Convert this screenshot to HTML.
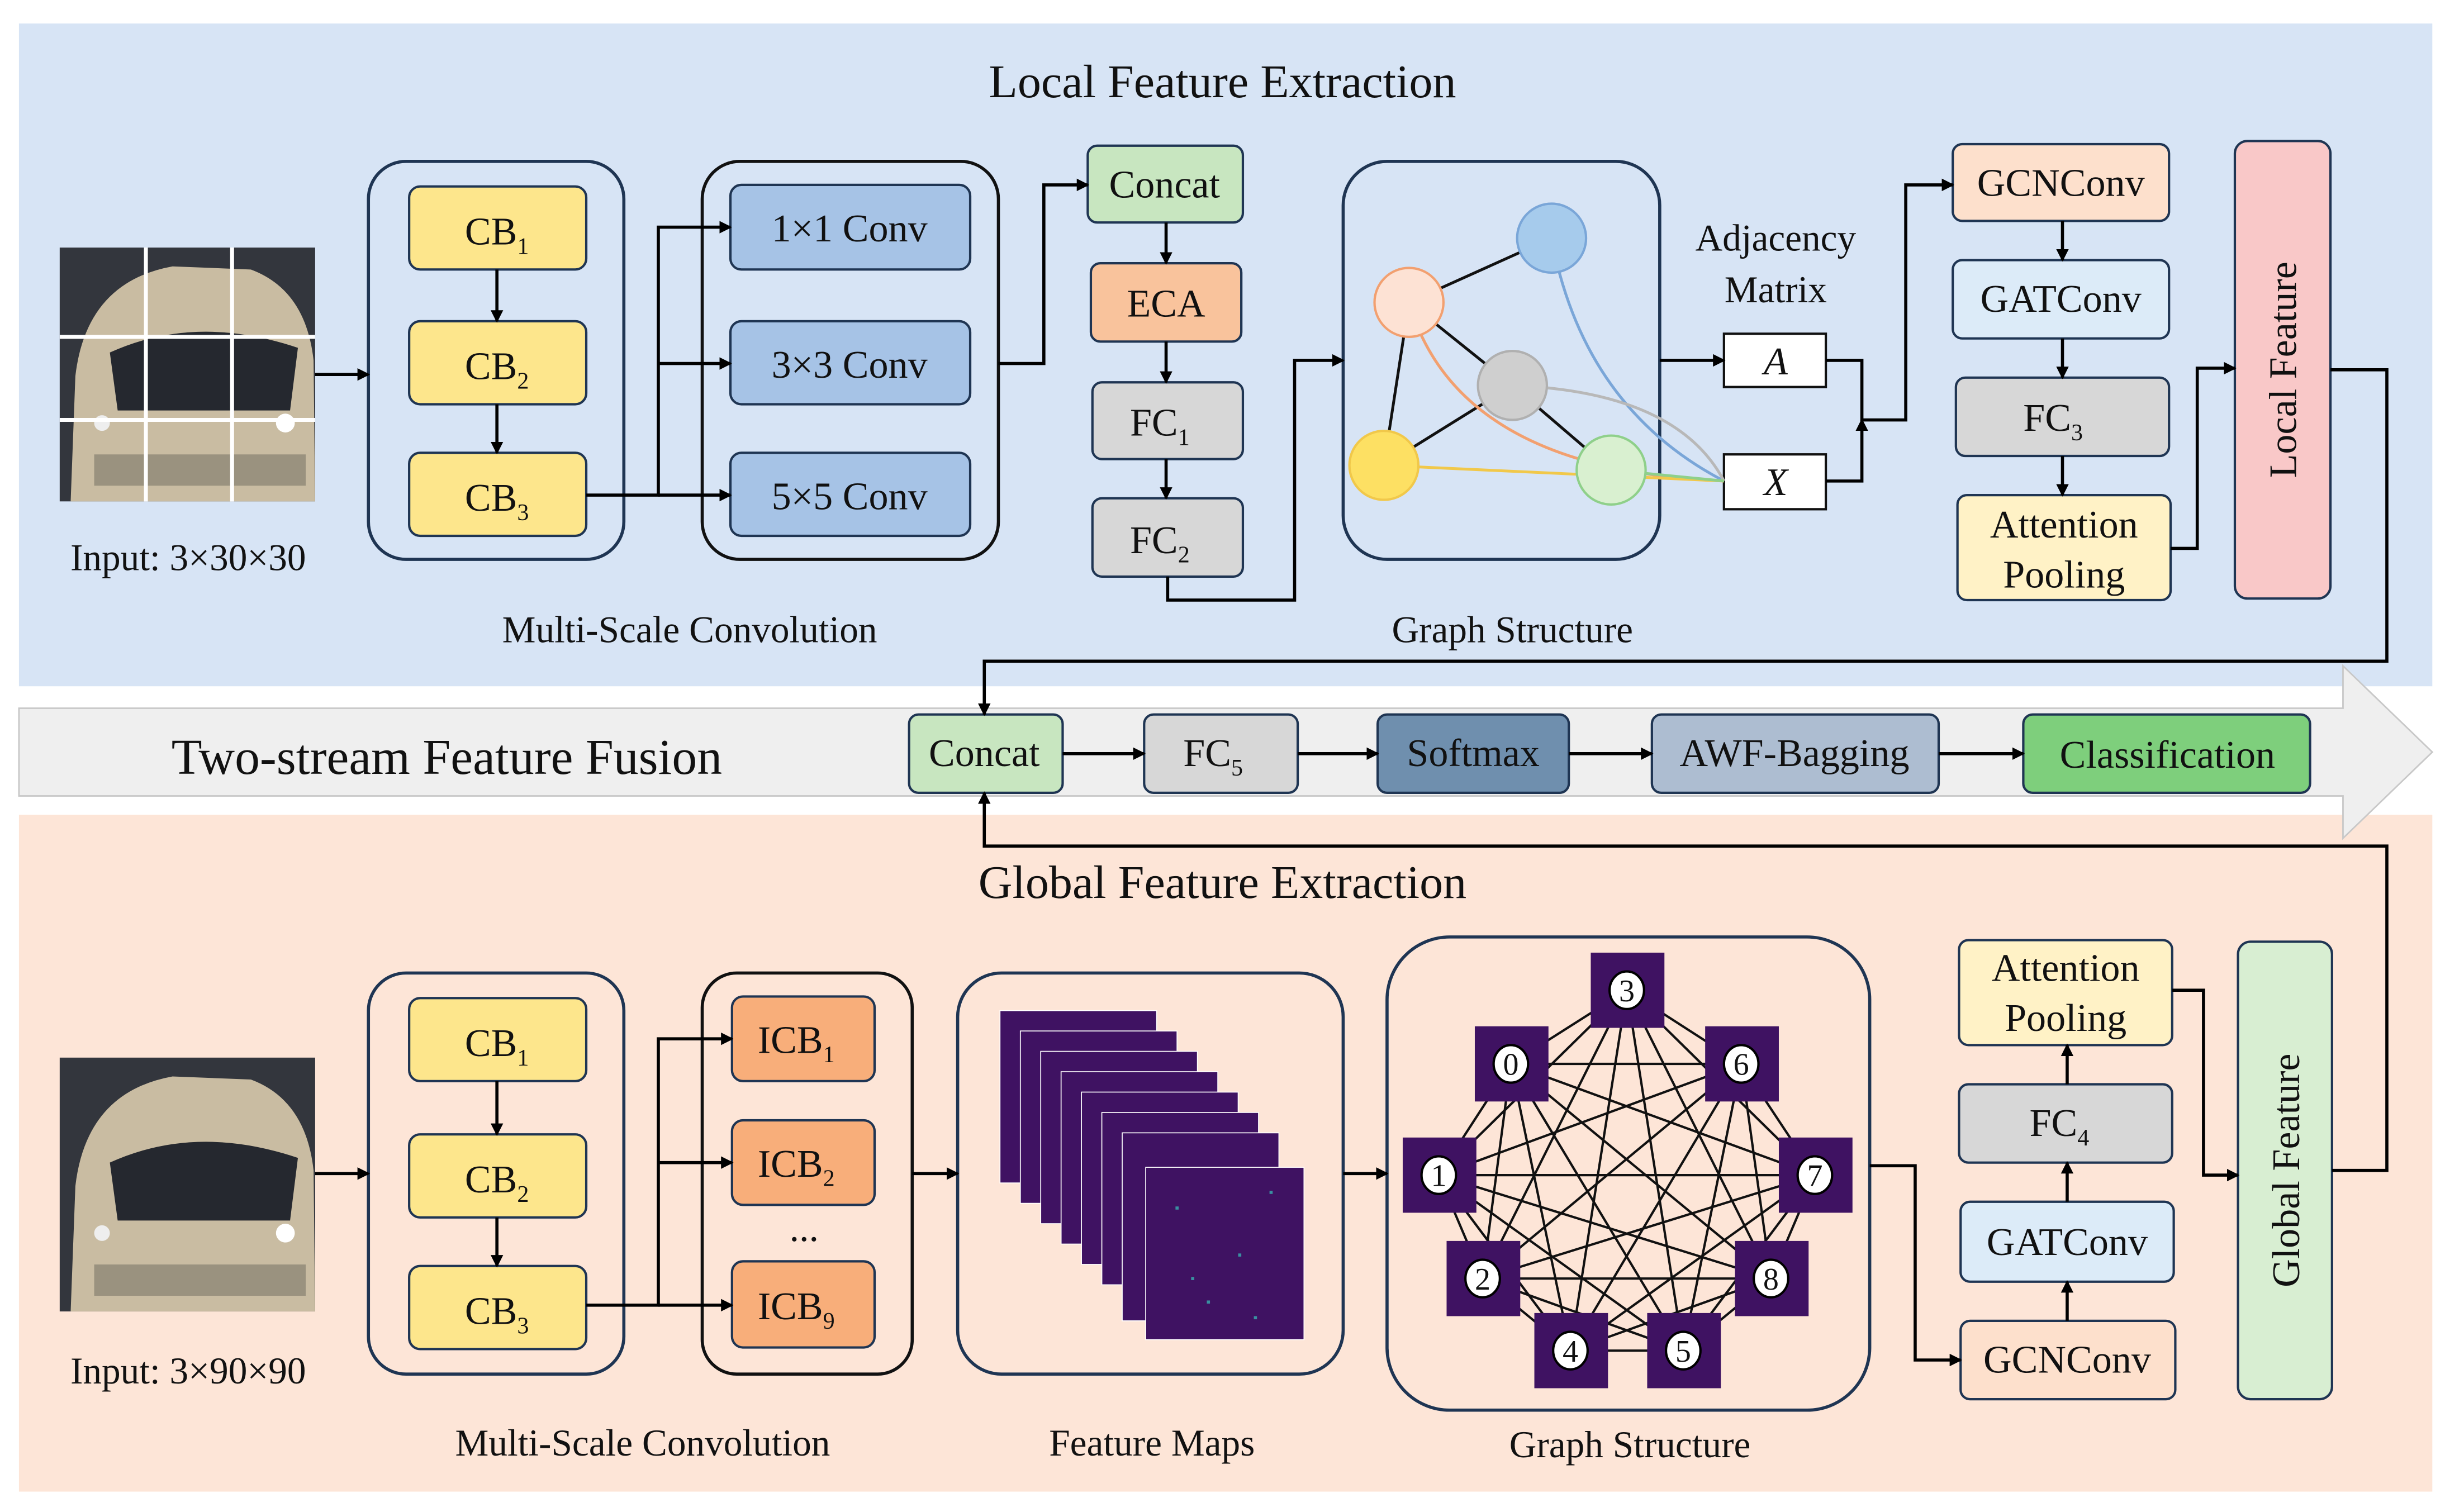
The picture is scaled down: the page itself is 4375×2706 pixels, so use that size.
<!DOCTYPE html>
<html><head><meta charset="utf-8">
<style>
html,body{margin:0;padding:0;background:#fff;}
svg{display:block;}
text{font-family:"Liberation Serif",serif;fill:#111;}
</style></head>
<body>
<svg width="4375" height="2706" viewBox="0 0 1560 965" xmlns="http://www.w3.org/2000/svg">
<defs>
<marker id="ar" markerWidth="8" markerHeight="8" refX="7" refY="4" orient="auto" markerUnits="userSpaceOnUse">
<path d="M0,0 L8,4 L0,8 z" fill="#000"/></marker>
</defs>
<rect width="1560" height="965" fill="#fff"/>
<rect x="12" y="15" width="1540" height="423" fill="#d7e4f5"/>
<rect x="12" y="520" width="1540" height="432" fill="#fde5d7"/>
<path d="M12,452 L1495,452 L1495,425 L1552,480 L1495,535 L1495,508 L12,508 Z" fill="#efefef" stroke="#c8c8c8" stroke-width="1"/>

<g font-size="30" text-anchor="middle">
<text x="780" y="62">Local Feature Extraction</text>
<text x="780" y="573">Global Feature Extraction</text>
<text x="285" y="494" font-size="32">Two-stream Feature Fusion</text>
</g>

<!-- cars -->
<g id="car1">
<rect x="38" y="158" width="163" height="162" fill="#33363d"/>
<path d="M45,320 L48,240 Q55,180 110,170 L160,172 Q195,185 200,230 L201,320 Z" fill="#c9bca2"/>
<path d="M70,225 Q125,200 190,222 L185,262 L75,262 Z" fill="#25282f"/>
<path d="M60,290 H195 V310 H60 Z" fill="#9a927f"/>
<circle cx="182" cy="270" r="6" fill="#fff"/>
<circle cx="65" cy="270" r="5" fill="#eee"/>
</g>
<path d="M38,215 H201 M38,268 H201 M93,158 V320 M148,158 V320" stroke="#fff" stroke-width="2.5"/>
<g transform="translate(0,517)">
<rect x="38" y="158" width="163" height="162" fill="#33363d"/>
<path d="M45,320 L48,240 Q55,180 110,170 L160,172 Q195,185 200,230 L201,320 Z" fill="#c9bca2"/>
<path d="M70,225 Q125,200 190,222 L185,262 L75,262 Z" fill="#25282f"/>
<path d="M60,290 H195 V310 H60 Z" fill="#9a927f"/>
<circle cx="182" cy="270" r="6" fill="#fff"/>
<circle cx="65" cy="270" r="5" fill="#eee"/>
</g>

<g font-size="24" text-anchor="middle">
<text x="120" y="364">Input: 3×30×30</text>
<text x="120" y="883">Input: 3×90×90</text>
<text x="440" y="410">Multi-Scale Convolution</text>
<text x="965" y="410">Graph Structure</text>
<text x="1133" y="160">Adjacency</text>
<text x="1133" y="193">Matrix</text>
<text x="410" y="929">Multi-Scale Convolution</text>
<text x="735" y="929">Feature Maps</text>
<text x="1040" y="930">Graph Structure</text>
</g>

<g fill="none" stroke="#1f3553" stroke-width="2">
<rect x="235" y="103" width="163" height="254" rx="24"/>
<rect x="448" y="103" width="189" height="254" rx="24" stroke="#111"/>
<rect x="857" y="103" width="202" height="254" rx="28"/>
<rect x="235" y="621" width="163" height="256" rx="24"/>
<rect x="448" y="621" width="134" height="256" rx="22" stroke="#111"/>
<rect x="611" y="621" width="246" height="256" rx="28"/>
<rect x="885" y="598" width="308" height="302" rx="40"/>
</g>

<g stroke="#1f3553" stroke-width="1.5">
<rect x="261" y="119" width="113" height="53" rx="7" fill="#fde68c"/>
<rect x="261" y="205" width="113" height="53" rx="7" fill="#fde68c"/>
<rect x="261" y="289" width="113" height="53" rx="7" fill="#fde68c"/>
<rect x="466" y="118" width="153" height="54" rx="7" fill="#a6c3e6"/>
<rect x="466" y="205" width="153" height="53" rx="7" fill="#a6c3e6"/>
<rect x="466" y="289" width="153" height="53" rx="7" fill="#a6c3e6"/>
<rect x="694" y="93" width="99" height="49" rx="6" fill="#c8e6c0"/>
<rect x="696" y="168" width="96" height="50" rx="6" fill="#f9c39c"/>
<rect x="697" y="244" width="96" height="49" rx="6" fill="#d7d7d7"/>
<rect x="697" y="318" width="96" height="50" rx="6" fill="#d7d7d7"/>
<rect x="1100" y="213" width="65" height="34" fill="#fff" stroke="#111"/>
<rect x="1100" y="290" width="65" height="35" fill="#fff" stroke="#111"/>
<rect x="1246" y="92" width="138" height="49" rx="6" fill="#fde0cc"/>
<rect x="1246" y="166" width="138" height="50" rx="6" fill="#dcebf8"/>
<rect x="1248" y="241" width="136" height="50" rx="6" fill="#d7d7d7"/>
<rect x="1249" y="316" width="136" height="67" rx="6" fill="#fff2c6"/>
<rect x="1426" y="90" width="61" height="292" rx="8" fill="#f9c8c8"/>
<rect x="580" y="456" width="98" height="50" rx="6" fill="#c8e6c0"/>
<rect x="730" y="456" width="98" height="50" rx="6" fill="#d7d7d7"/>
<rect x="879" y="456" width="122" height="50" rx="6" fill="#6f8fae"/>
<rect x="1054" y="456" width="183" height="50" rx="6" fill="#adbdd1"/>
<rect x="1291" y="456" width="183" height="50" rx="6" fill="#7ecf7c"/>
<rect x="261" y="637" width="113" height="53" rx="7" fill="#fde68c"/>
<rect x="261" y="724" width="113" height="53" rx="7" fill="#fde68c"/>
<rect x="261" y="808" width="113" height="53" rx="7" fill="#fde68c"/>
<rect x="467" y="636" width="91" height="54" rx="7" fill="#f8ae7a"/>
<rect x="467" y="715" width="91" height="54" rx="7" fill="#f8ae7a"/>
<rect x="467" y="805" width="91" height="55" rx="7" fill="#f8ae7a"/>
<rect x="1250" y="600" width="136" height="67" rx="6" fill="#fff2c6"/>
<rect x="1250" y="692" width="136" height="50" rx="6" fill="#d7d7d7"/>
<rect x="1251" y="767" width="136" height="51" rx="6" fill="#dcebf8"/>
<rect x="1251" y="843" width="137" height="50" rx="6" fill="#fde0cc"/>
<rect x="1428" y="601" width="60" height="292" rx="8" fill="#d8eed2"/>
</g>

<g font-size="25" text-anchor="middle">
<text x="317" y="156">CB<tspan font-size="15" dy="6">1</tspan></text>
<text x="317" y="242">CB<tspan font-size="15" dy="6">2</tspan></text>
<text x="317" y="326">CB<tspan font-size="15" dy="6">3</tspan></text>
<text x="542" y="154">1×1 Conv</text>
<text x="542" y="241">3×3 Conv</text>
<text x="542" y="325">5×5 Conv</text>
<text x="743" y="126">Concat</text>
<text x="744" y="202">ECA</text>
<text x="740" y="278">FC<tspan font-size="15" dy="6">1</tspan></text>
<text x="740" y="353">FC<tspan font-size="15" dy="6">2</tspan></text>
<text x="1133" y="239" font-style="italic">A</text>
<text x="1133" y="316" font-style="italic">X</text>
<text x="1315" y="125">GCNConv</text>
<text x="1315" y="199">GATConv</text>
<text x="1310" y="275">FC<tspan font-size="15" dy="6">3</tspan></text>
<text x="1317" y="343">Attention</text>
<text x="1317" y="375">Pooling</text>
<text transform="translate(1465,236) rotate(-90)">Local Feature</text>
<text x="628" y="489">Concat</text>
<text x="774" y="489">FC<tspan font-size="15" dy="6">5</tspan></text>
<text x="940" y="489">Softmax</text>
<text x="1145" y="489">AWF-Bagging</text>
<text x="1383" y="490">Classification</text>
<text x="317" y="674">CB<tspan font-size="15" dy="6">1</tspan></text>
<text x="317" y="761">CB<tspan font-size="15" dy="6">2</tspan></text>
<text x="317" y="845">CB<tspan font-size="15" dy="6">3</tspan></text>
<text x="508" y="672">ICB<tspan font-size="15" dy="6">1</tspan></text>
<text x="508" y="751">ICB<tspan font-size="15" dy="6">2</tspan></text>
<text x="513" y="792">...</text>
<text x="508" y="842">ICB<tspan font-size="15" dy="6">9</tspan></text>
<text x="1318" y="626">Attention</text>
<text x="1318" y="658">Pooling</text>
<text x="1314" y="725">FC<tspan font-size="15" dy="6">4</tspan></text>
<text x="1319" y="801">GATConv</text>
<text x="1319" y="876">GCNConv</text>
<text transform="translate(1467,747) rotate(-90)">Global Feature</text>
</g>

<g stroke-width="1.8" fill="none">
<path d="M899,193 L990,152 M899,193 L965,246 M965,246 L883,297 M965,246 L1028,300 M899,193 L883,297" stroke="#111"/>
<path d="M990,152 Q1010,260 1100,307" stroke="#7aa6d8"/>
<path d="M965,246 Q1070,250 1100,307" stroke="#b8b8b8"/>
<path d="M899,193 Q930,300 1100,307" stroke="#f2a070"/>
<path d="M883,297 L1100,307" stroke="#f1c84a"/>
<path d="M1028,300 L1100,307" stroke="#8fd08a"/>
</g>
<g stroke-width="1.5">
<circle cx="990" cy="152" r="22" fill="#a6cbec" stroke="#7aa6d8"/>
<circle cx="899" cy="193" r="22" fill="#fde2d4" stroke="#f2a070"/>
<circle cx="965" cy="246" r="22" fill="#cfcfcf" stroke="#b0b0b0"/>
<circle cx="883" cy="297" r="22" fill="#fde063" stroke="#f1c84a"/>
<circle cx="1028" cy="300" r="22" fill="#d9f0d0" stroke="#8fd08a"/>
</g>

<g fill="#3f1262" stroke="#fff" stroke-width="0.6">
<rect x="638" y="645" width="100" height="110"/>
<rect x="651" y="658" width="100" height="110"/>
<rect x="664" y="671" width="100" height="110"/>
<rect x="677" y="684" width="100" height="110"/>
<rect x="690" y="697" width="100" height="110"/>
<rect x="703" y="710" width="100" height="110"/>
<rect x="716" y="723" width="100" height="120"/>
<rect x="731" y="745" width="101" height="110"/>
</g>
<g fill="#3a8fa0">
<rect x="750" y="770" width="2" height="2"/><rect x="790" y="800" width="2" height="2"/><rect x="770" y="830" width="2" height="2"/><rect x="810" y="760" width="2" height="2"/><rect x="760" y="815" width="2" height="2"/><rect x="800" y="840" width="2" height="2"/>
</g>

<path stroke="#111" stroke-width="1.5" fill="none" d="
M1038,632L964,679 M1038,632L1111,679 M1038,632L918,750 M1038,632L1158,750 M1038,632L946,816 M1038,632L1130,816 M1038,632L1002,862 M1038,632L1074,862
M964,679L1111,679 M964,679L918,750 M964,679L1158,750 M964,679L946,816 M964,679L1130,816 M964,679L1002,862 M964,679L1074,862
M1111,679L918,750 M1111,679L1158,750 M1111,679L946,816 M1111,679L1130,816 M1111,679L1002,862 M1111,679L1074,862
M918,750L1158,750 M918,750L946,816 M918,750L1130,816 M918,750L1002,862 M918,750L1074,862
M1158,750L946,816 M1158,750L1130,816 M1158,750L1002,862 M1158,750L1074,862
M946,816L1130,816 M946,816L1002,862 M946,816L1074,862
M1130,816L1002,862 M1130,816L1074,862 M1002,862L1074,862"/>
<g fill="#3f1262">
<rect x="1015" y="608" width="47" height="48"/>
<rect x="941" y="655" width="47" height="48"/>
<rect x="1088" y="655" width="47" height="48"/>
<rect x="895" y="726" width="47" height="48"/>
<rect x="1135" y="726" width="47" height="48"/>
<rect x="923" y="792" width="47" height="48"/>
<rect x="1107" y="792" width="47" height="48"/>
<rect x="979" y="838" width="47" height="48"/>
<rect x="1051" y="838" width="47" height="48"/>
</g>
<g fill="#fff" stroke="#000" stroke-width="1.5">
<ellipse cx="1038" cy="632" rx="11" ry="12"/><ellipse cx="964" cy="679" rx="11" ry="12"/>
<ellipse cx="1111" cy="679" rx="11" ry="12"/><ellipse cx="918" cy="750" rx="11" ry="12"/>
<ellipse cx="1158" cy="750" rx="11" ry="12"/><ellipse cx="946" cy="816" rx="11" ry="12"/>
<ellipse cx="1130" cy="816" rx="11" ry="12"/><ellipse cx="1002" cy="862" rx="11" ry="12"/>
<ellipse cx="1074" cy="862" rx="11" ry="12"/>
</g>
<g font-size="20" text-anchor="middle">
<text x="1038" y="639">3</text><text x="964" y="686">0</text><text x="1111" y="686">6</text>
<text x="918" y="757">1</text><text x="1158" y="757">7</text><text x="946" y="823">2</text>
<text x="1130" y="823">8</text><text x="1002" y="869">4</text><text x="1074" y="869">5</text>
</g>

<g stroke="#000" stroke-width="2" fill="none" marker-end="url(#ar)">
<path d="M201,239 H235"/>
<path d="M317,172 V205"/>
<path d="M317,258 V289"/>
<path d="M374,316 H420 V145 H466"/>
<path d="M420,232 H466"/>
<path d="M420,316 H466"/>
<path d="M637,232 H666 V118 H694"/>
<path d="M744,142 V168"/>
<path d="M744,218 V244"/>
<path d="M744,293 V318"/>
<path d="M745,368 V383 H826 V230 H857"/>
<path d="M1059,230 H1100"/>
<path d="M1165,230 H1188 V268 H1216 V118 H1246"/>
<path d="M1165,307 H1188 V268" marker-end=""/>
<path d="M1316,141 V166"/>
<path d="M1316,216 V241"/>
<path d="M1316,291 V316"/>
<path d="M1385,350 H1402 V235 H1426"/>
<path d="M1487,236 H1523 V422 H628 V456"/>
<path d="M678,481 H730"/>
<path d="M828,481 H879"/>
<path d="M1001,481 H1054"/>
<path d="M1237,481 H1291"/>
<path d="M1488,747 H1523 V540 H628 V506"/>
<path d="M201,749 H235"/>
<path d="M317,690 V724"/>
<path d="M317,777 V808"/>
<path d="M374,833 H420 V663 H467"/>
<path d="M420,742 H467"/>
<path d="M420,833 H467"/>
<path d="M582,749 H611"/>
<path d="M857,749 H885"/>
<path d="M1193,744 H1222 V868 H1251"/>
<path d="M1319,843 V818"/>
<path d="M1319,767 V742"/>
<path d="M1319,692 V667"/>
<path d="M1386,632 H1406 V750 H1428"/>
</g>
</svg>
</body></html>
